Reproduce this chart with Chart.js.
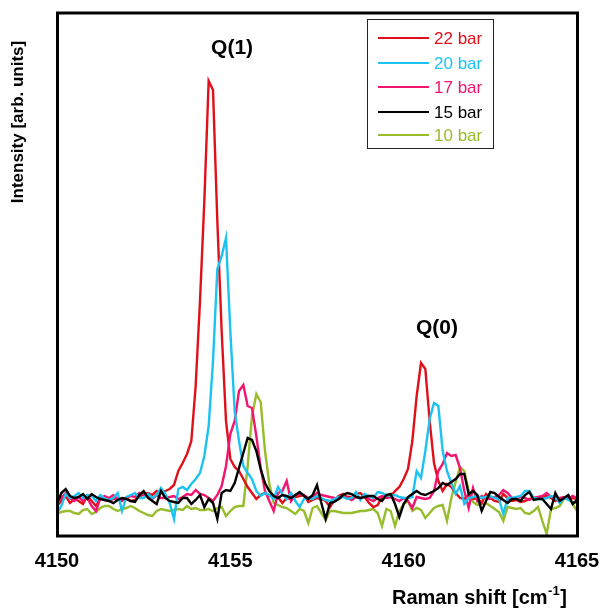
<!DOCTYPE html>
<html>
<head>
<meta charset="utf-8">
<script src="https://cdn.jsdelivr.net/npm/chart.js@4"></script>
<style>
  html, body { margin: 0; padding: 0; background: #ffffff; }
  #wrap { width: 602px; height: 609px; }
</style>
</head>
<body>
<div id="wrap"><canvas id="c" width="602" height="609"></canvas></div>
<script>
// Raman shift sampling (cm-1)
const ramanShift = [
  4150.000,4150.125,4150.250,4150.375,4150.500,4150.625,4150.750,4150.875,
  4151.000,4151.125,4151.250,4151.375,4151.500,4151.625,4151.750,4151.875,
  4152.000,4152.125,4152.250,4152.375,4152.500,4152.625,4152.750,4152.875,
  4153.000,4153.125,4153.250,4153.375,4153.500,4153.625,4153.750,4153.875,
  4154.000,4154.125,4154.250,4154.375,4154.500,4154.625,4154.750,4154.875,
  4155.000,4155.125,4155.250,4155.375,4155.500,4155.625,4155.750,4155.875,
  4156.000,4156.125,4156.250,4156.375,4156.500,4156.625,4156.750,4156.875,
  4157.000,4157.125,4157.250,4157.375,4157.500,4157.625,4157.750,4157.875,
  4158.000,4158.125,4158.250,4158.375,4158.500,4158.625,4158.750,4158.875,
  4159.000,4159.125,4159.250,4159.375,4159.500,4159.625,4159.750,4159.875,
  4160.000,4160.125,4160.250,4160.375,4160.500,4160.625,4160.750,4160.875,
  4161.000,4161.125,4161.250,4161.375,4161.500,4161.625,4161.750,4161.875,
  4162.000,4162.125,4162.250,4162.375,4162.500,4162.625,4162.750,4162.875,
  4163.000,4163.125,4163.250,4163.375,4163.500,4163.625,4163.750,4163.875,
  4164.000,4164.125,4164.250,4164.375,4164.500,4164.625,4164.750,4164.875,
  4165.000
];

// Intensities (arb. units)
const bar22 = [
  30,35,40,33,37,35,32,40,35,30,38,36,35,37,38,36,38,35,36,39,
  42,43,41,45,43,45,47,51,65,73,82,95,150,235,335,455,446,315,205,115,
  77,69,65,57,49,43,37,41,43,40,41,39,33,38,37,39,40,41,34,36,
  38,37,35,29,36,40,42,39,39,42,43,39,33,29,31,39,40,40,45,49,
  57,67,95,140,173,167,115,73,55,45,52,49,43,38,37,41,37,38,33,42,
  38,35,34,42,38,35,36,34,35,37,38,38,39,40,38,35,37,38,37,38,
  37
];
const bar20 = [
  23,30,42,38,40,43,38,41,40,35,41,37,36,38,43,25,39,41,43,38,
  38,42,38,41,48,42,33,17,47,49,46,52,57,63,80,110,175,267,280,298,
  205,125,95,70,63,57,45,40,43,41,37,49,42,37,43,35,29,37,38,37,
  40,38,36,35,37,39,39,37,38,44,36,42,40,38,44,43,41,40,41,39,
  38,38,39,65,58,85,117,133,130,85,65,53,42,50,32,38,39,40,38,39,
  40,38,37,22,38,38,39,40,45,45,38,37,37,38,40,39,33,38,36,34,
  33
];
const bar17 = [
  35,38,43,38,35,39,35,38,30,25,38,40,38,41,37,35,38,40,39,43,
  41,40,37,41,38,38,39,40,37,39,42,41,46,42,41,38,35,41,50,70,
  102,115,145,151,130,128,100,68,45,35,25,43,45,55,35,41,42,41,38,39,
  43,41,40,39,38,37,40,38,36,39,38,40,37,35,38,40,38,39,37,35,
  38,35,28,39,38,37,38,45,65,72,83,80,81,68,45,28,48,35,40,38,
  37,39,41,46,43,38,37,39,38,36,38,39,40,43,39,37,38,39,37,40,
  38
];
const bar15 = [
  32,43,47,40,38,39,42,37,42,39,37,36,35,33,36,38,37,35,34,41,
  45,38,35,32,45,38,35,34,33,38,38,32,36,41,29,37,33,17,43,46,
  45,53,68,83,98,96,85,67,53,45,40,38,41,40,38,41,44,40,37,41,
  51,33,17,33,34,37,41,43,42,39,38,39,40,40,37,35,41,42,32,19,
  32,39,42,45,42,41,43,45,48,53,51,54,57,62,62,42,45,41,25,35,
  44,43,39,36,33,37,37,35,41,44,36,37,37,32,27,43,35,38,41,32,
  36
];
const bar10 = [
  22,24,25,25,23,22,26,27,22,24,28,30,30,27,25,27,28,30,28,25,
  23,21,20,25,27,26,25,26,27,26,30,27,28,26,26,27,25,28,29,20,
  25,29,30,30,70,120,142,134,85,52,33,31,29,28,25,22,27,25,13,28,
  30,23,16,25,25,24,23,23,23,24,25,25,26,27,23,10,27,25,10,25,
  32,35,25,28,26,18,23,28,30,31,15,38,54,69,65,45,34,31,32,33,
  30,27,24,15,29,28,27,28,23,22,25,29,15,2,27,28,30,37,40,32,
  25
];

const seriesLabels = ['22 bar', '20 bar', '17 bar', '15 bar', '10 bar'];
const seriesValues = [bar22, bar20, bar17, bar15, bar10];
const seriesColors = ['#E0101A', '#1CC3F2', '#F2146E', '#000000', '#97BC2C'];
const xTicks = [4150, 4155, 4160, 4165];

const FONT = "'Liberation Sans', Arial, Helvetica, sans-serif";

const datasets = seriesValues.map((vals, k) => ({
  label: seriesLabels[k],
  data: vals.map((v, i) => ({ x: ramanShift[i], y: v })),
  borderColor: seriesColors[k],
  backgroundColor: seriesColors[k],
  borderWidth: 2.4,
  pointRadius: 0,
  tension: 0,
  fill: false,
  order: [3, 1, 2, 0, 4][k]
}));

const decorPlugin = {
  id: 'decor',
  afterDraw(chart) {
    const ctx = chart.ctx;
    const a = chart.chartArea;
    const xs = chart.scales.x, ys = chart.scales.y;
    ctx.save();
    // frame
    ctx.strokeStyle = '#000';
    ctx.lineWidth = 3;
    ctx.strokeRect(a.left + 0.5, a.top, a.right - a.left, a.bottom - a.top);

    // peak labels
    ctx.fillStyle = '#000';
    ctx.font = 'bold 21px ' + FONT;
    ctx.textAlign = 'center';
    ctx.textBaseline = 'middle';
    ctx.fillText('Q(1)', xs.getPixelForValue(4155.05), ys.getPixelForValue(488));
    ctx.fillText('Q(0)', xs.getPixelForValue(4160.96), ys.getPixelForValue(208));

    // y title
    ctx.save();
    ctx.translate(18, 122);
    ctx.rotate(-Math.PI / 2);
    ctx.font = 'bold 17px ' + FONT;
    ctx.fillText('Intensity [arb. units]', 0, 0);
    ctx.restore();

    // x title with superscript
    ctx.textAlign = 'left';
    ctx.textBaseline = 'alphabetic';
    const base = 604;
    let x = 392;
    ctx.font = 'bold 20px ' + FONT;
    const t1 = 'Raman shift [cm';
    ctx.fillText(t1, x, base);
    x += ctx.measureText(t1).width;
    ctx.font = 'bold 13px ' + FONT;
    ctx.fillText('-1', x + 0.5, base - 9);
    x += ctx.measureText('-1').width + 1;
    ctx.font = 'bold 20px ' + FONT;
    ctx.fillText(']', x, base);

    // legend box
    ctx.lineWidth = 1;
    ctx.strokeStyle = '#222';
    ctx.fillStyle = '#fff';
    ctx.fillRect(367.5, 19.5, 126, 129);
    ctx.strokeRect(367.5, 19.5, 126, 129);
    ctx.font = '17px ' + FONT;
    ctx.textBaseline = 'middle';
    const rows = [38, 63, 87, 112, 135];
    seriesLabels.forEach((lab, k) => {
      ctx.strokeStyle = seriesColors[k];
      ctx.lineWidth = 2.2;
      ctx.beginPath();
      ctx.moveTo(378, rows[k]);
      ctx.lineTo(429, rows[k]);
      ctx.stroke();
      ctx.fillStyle = seriesColors[k];
      ctx.fillText(lab, 434, rows[k] + 1);
    });
    ctx.restore();
  }
};

new Chart(document.getElementById('c'), {
  type: 'line',
  data: { datasets },
  options: {
    responsive: false,
    animation: false,
    devicePixelRatio: 1,
    layout: { padding: { left: 0, top: 13, right: 25, bottom: 0 } },
    plugins: { legend: { display: false }, tooltip: { enabled: false } },
    scales: {
      x: {
        type: 'linear',
        min: 4150,
        max: 4165,
        afterBuildTicks(scale) { scale.ticks = xTicks.map(v => ({ value: v })); },
        afterFit(scale) {
          scale.height = 73;
          scale.paddingLeft = 0;
          scale.paddingRight = 0;
        },
        ticks: {
          autoSkip: false,
          maxRotation: 0,
          padding: 13,
          color: '#000',
          font: { family: FONT, size: 20, weight: 'bold' },
          callback: v => String(v)
        },
        grid: { display: false, drawTicks: false },
        border: { display: false }
      },
      y: {
        min: 0,
        max: 523,
        afterFit(scale) {
          scale.width = 57;
          scale.paddingTop = 0;
          scale.paddingBottom = 0;
        },
        ticks: { display: false },
        grid: { display: false, drawTicks: false },
        border: { display: false }
      }
    }
  },
  plugins: [decorPlugin]
});
</script>
</body>
</html>
